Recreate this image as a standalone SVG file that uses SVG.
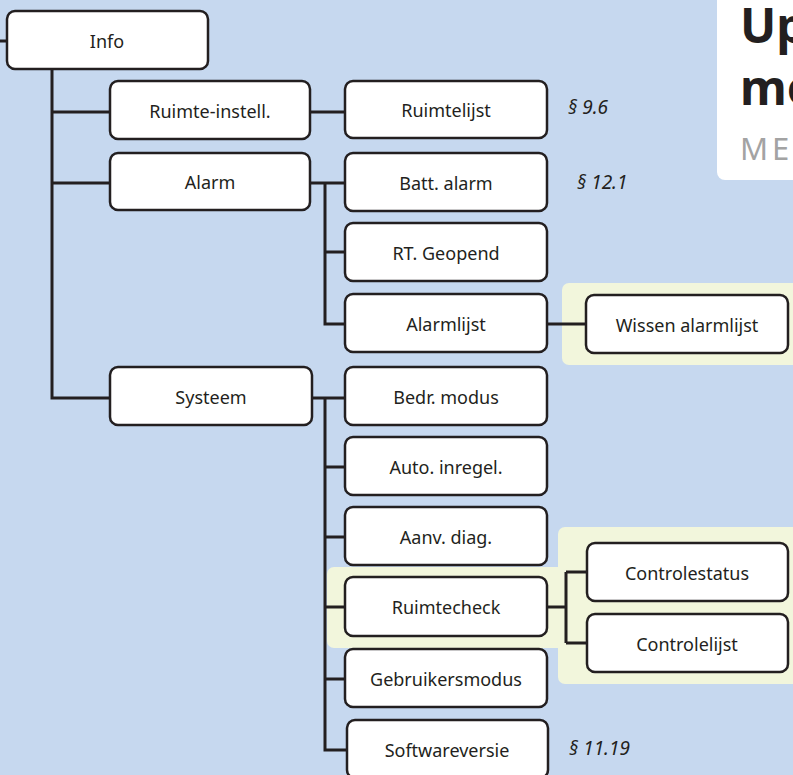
<svg xmlns="http://www.w3.org/2000/svg" width="793" height="775" viewBox="0 0 793 775">
<style>
.bg{fill:#c6d8ef}
.hl{fill:#f2f6dc}
.box{fill:#fff;stroke:#231f20;stroke-width:2.5}
.lbl{font-family:"Noto Sans","Open Sans",sans-serif;font-size:18px;fill:#231f20;text-anchor:middle}
.ref{font-family:"Noto Sans","Open Sans",sans-serif;font-size:19px;font-style:italic;fill:#231f20}
.con{fill:none;stroke:#231f20;stroke-width:3}
</style>
<rect class="bg" x="0" y="0" width="793" height="775"/>
<rect x="717" y="-10" width="90" height="190" rx="8" fill="#fff"/>
<text x="740" y="43" font-family="Noto Sans, Open Sans, sans-serif" font-size="48" font-weight="bold" fill="#231f20">Up</text>
<text x="740" y="105" font-family="Noto Sans, Open Sans, sans-serif" font-size="48" font-weight="bold" fill="#231f20">mo</text>
<text x="740" y="160" font-family="Noto Sans, Open Sans, sans-serif" font-size="31" letter-spacing="4" fill="#a3a3a3">ME</text>
<rect class="hl" x="562" y="283" width="240" height="82" rx="7"/>
<rect class="hl" x="327" y="567" width="250" height="81" rx="7"/>
<rect class="hl" x="558" y="527" width="250" height="157" rx="7"/>
<g id="connectors">
<path class="con" d="M0 41H7"/>
<path class="con" d="M52 69V398H110M52 112H110M52 183H110"/>
<path class="con" d="M310 112H345"/>
<path class="con" d="M310 183H345M325 183V324H345M325 252H345"/>
<path class="con" d="M547 324H586"/>
<path class="con" d="M312 398H345M325 398V750H347M325 467H345M325 537H345M325 607H345M325 679H345"/>
<path class="con" d="M547 607H566M566 572V643M566 572H587M566 643H587"/>
</g>
<g id="info"><rect class="box" x="7" y="11" width="201" height="58" rx="8"/><text class="lbl" x="107" y="48">Info</text></g>
<g id="ruimte-instell"><rect class="box" x="110" y="81" width="200" height="58" rx="8"/><text class="lbl" x="210" y="118">Ruimte-instell.</text></g>
<g id="alarm"><rect class="box" x="110" y="153" width="200" height="57" rx="8"/><text class="lbl" x="210" y="189">Alarm</text></g>
<g id="systeem"><rect class="box" x="110" y="367" width="202" height="58" rx="8"/><text class="lbl" x="211" y="404">Systeem</text></g>
<g id="ruimtelijst"><rect class="box" x="345" y="81" width="202" height="57" rx="8"/><text class="lbl" x="446" y="117">Ruimtelijst</text></g>
<g id="batt-alarm"><rect class="box" x="345" y="153" width="202" height="58" rx="8"/><text class="lbl" x="446" y="190">Batt. alarm</text></g>
<g id="rt-geopend"><rect class="box" x="345" y="223" width="202" height="58" rx="8"/><text class="lbl" x="446" y="260">RT. Geopend</text></g>
<g id="alarmlijst"><rect class="box" x="345" y="294" width="202" height="58" rx="8"/><text class="lbl" x="446" y="331">Alarmlijst</text></g>
<g id="wissen-alarmlijst"><rect class="box" x="586" y="295" width="202" height="58" rx="8"/><text class="lbl" x="687" y="332">Wissen alarmlijst</text></g>
<g id="bedr-modus"><rect class="box" x="345" y="367" width="202" height="58" rx="8"/><text class="lbl" x="446" y="404">Bedr. modus</text></g>
<g id="auto-inregel"><rect class="box" x="345" y="437" width="202" height="58" rx="8"/><text class="lbl" x="446" y="474">Auto. inregel.</text></g>
<g id="aanv-diag"><rect class="box" x="345" y="507" width="202" height="58" rx="8"/><text class="lbl" x="446" y="544">Aanv. diag.</text></g>
<g id="ruimtecheck"><rect class="box" x="345" y="577" width="202" height="59" rx="8"/><text class="lbl" x="446" y="614">Ruimtecheck</text></g>
<g id="controlestatus"><rect class="box" x="587" y="543" width="201" height="58" rx="8"/><text class="lbl" x="687" y="580">Controlestatus</text></g>
<g id="controlelijst"><rect class="box" x="587" y="614" width="201" height="58" rx="8"/><text class="lbl" x="687" y="651">Controlelijst</text></g>
<g id="gebruikersmodus"><rect class="box" x="345" y="649" width="202" height="58" rx="8"/><text class="lbl" x="446" y="686">Gebruikersmodus</text></g>
<g id="softwareversie"><rect class="box" x="347" y="720" width="201" height="58" rx="8"/><text class="lbl" x="447" y="757">Softwareversie</text></g>
<text class="ref" x="568" y="114">§ 9.6</text>
<text class="ref" x="577" y="189">§ 12.1</text>
<text class="ref" x="569" y="755">§ 11.19</text>
</svg>
